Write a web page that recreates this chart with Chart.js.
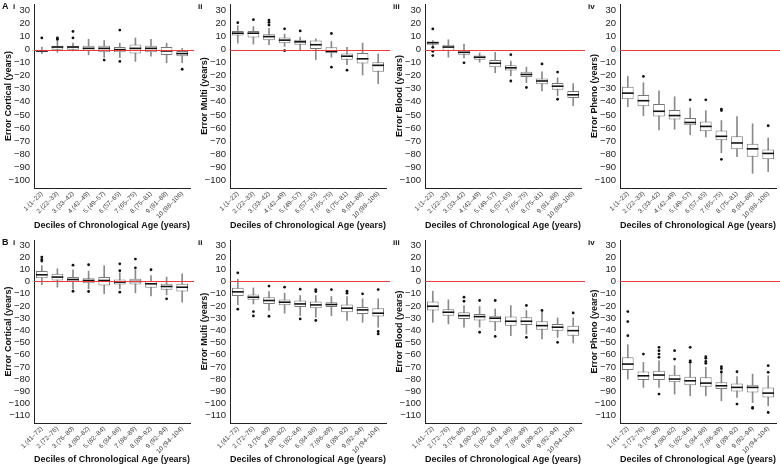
<!DOCTYPE html>
<html lang="en">
<head>
<meta charset="UTF-8">
<title>Error by decile of chronological age</title>
<script src="https://cdn.jsdelivr.net/npm/chart.js@4/dist/chart.umd.min.js"></script>
<style>
  body { margin: 0; background: #fff; }
  #wrap { position: relative; width: 780px; height: 466px; }
  #wrap canvas { position: absolute; }
</style>
</head>
<body>
<div id="wrap"></div>
<script>
// decile labels
var decilesA = ["1.(1–22)", "2.(22–33)", "3.(33–42)", "4.(42–49)", "5.(49–57)", "6.(57–65)", "7.(65–75)", "8.(75–81)", "9.(81–88)", "10.(88–106)"];
var decilesB = ["1.(41–72)", "2.(72–76)", "3.(76–80)", "4.(80–82)", "5.(82–84)", "6.(84–86)", "7.(86–89)", "8.(89–92)", "9.(92–94)", "10.(94–104)"];
var yTicksA = [30, 20, 10, 0, -10, -20, -30, -40, -50, -60, -70, -80, -90, -100];
var yTicksB = [30, 20, 10, 0, -10, -20, -30, -40, -50, -60, -70, -80, -90, -100, -110];

// box stats per decile: [lower whisker, q1, median, q3, upper whisker]
var cortA = [[-3,-2,-1,0,2],[-2,0,2,3,7],[-1,0,2,3,5],[-4,-1,1,3,8],[-6,-2,1,3,7],
             [-6,-2,0,2,5],[-9,-3,1,4,9],[-5,-2,1,3,8],[-10,-4,-1,2,5],[-10,-5,-3,-1,1]];
var cortAOut = [[9],[8,9],[9,14],[],[-8],[15,-9],[],[],[],[-15]];

var multiA = [[5,10.9,12.6,14.4,18.4],[4.3,9.3,12.6,14.4,17.7],[3.8,7.3,10,11.9,16.4],[2.5,5,7.3,9.3,12],[-0.8,3.8,6,7.6,9.6],
              [-7.6,0.5,3.8,7,8.3],[-5.8,-2.8,-1.3,1.8,6.3],[-11.4,-7.8,-5,-3,1.8],[-19.4,-10.6,-7,-2.5,5],[-26,-16.9,-12,-9.6,-3.3]];
var multiAOut = [[20.7],[23],[22.7,21,18.9],[16,-0.8],[14.4],[],[12.4,-13.4],[-15.7],[],[]];

var bloodA = [[3,3.8,5.3,6.3,7],[-5.8,-0.8,2,3.8,7.6],[-6.3,-3.8,-2,-0.3,4.3],[-9.6,-7.8,-5.8,-4.5,-2.5],[-17.7,-13.4,-10.4,-8,-2],
              [-20,-16,-13.9,-12,-8.8],[-25.3,-21,-19,-17,-13.4],[-31.6,-26.5,-24,-22,-17],[-35.4,-30.8,-28,-25.5,-21.5],[-43,-37.1,-34.6,-31.6,-26]];
var bloodAOut = [[15.9,1.8,-1.3,-4.5],[],[-10.1],[],[],[-3.8,-24],[-29],[-10.9],[-17.2,-38],[]];

var phenoA = [[-43.7,-37.9,-33.3,-28.5,-20.5],[-50.5,-43.4,-39.1,-34.8,-25.3],[-61.4,-51.3,-47.2,-41.7,-31.6],[-61,-53.5,-50.5,-46.2,-36.1],[-65.2,-58,-55.8,-52.3,-44.7],
              [-66.9,-62.6,-58.8,-55,-46.7],[-79,-69.4,-66.4,-61.9,-54.3],[-82,-76.3,-71.5,-66.4,-51.3],[-94.7,-82,-76,-72,-56.8],[-93.4,-84,-79.5,-76.5,-67.7]];
var phenoAOut = [[],[-20.5],[],[],[-38.4],[-38.4],[-45.5,-46.7,-84],[],[],[-58.3]];

var cortB = [[-2.7,2.7,5.5,8.5,13],[-4.7,0.8,3.6,6.3,10.4],[-6,-0.5,1.6,3.6,9.6],[-6,-1.4,0.8,2.7,8.5],[-10,-3.3,0.8,3.6,13],
             [-6,-2.5,-0.5,1.6,7],[-9.3,-2.5,0,2.2,9.6],[-11.8,-5.2,-1.9,0.3,4.9],[-11,-6.8,-4.1,-1.9,3.6],[-17,-8.2,-4.7,-1.9,6.3]];
var cortBOut = [[20,18,16.7],[],[13.4,-8],[13.7,-8.2],[],[14.5,8.8,-8.8],[18.4,11.2],[9.6],[-14.2],[]];

var multiB = [[-19,-11.8,-8.5,-5.2,1.9],[-18.4,-15,-12.9,-10.7,-5.2],[-23.8,-18.4,-15.6,-12.9,-8.2],[-26,-19.5,-17,-14.8,-9.6],[-28,-21,-18.4,-15.6,-11.5],
              [-29.3,-21.9,-19.2,-16.4,-11.5],[-28,-21,-18.9,-17,-12.3],[-32,-25.2,-21.9,-18.9,-12.3],[-33.4,-26.6,-23.3,-21,-14.2],[-37.5,-28.8,-26,-21.9,-14.2]];
var multiBOut = [[7.1,-22.7],[-24.7,-28.2],[-3.8,-28.5],[-4.7],[-6.3,-30.7],[-6.6,-8.2,-32],[-6.6],[-8,-9.6],[-10.1],[-6.6,-41,-43]];

var bloodB = [[-33.4,-23.8,-20.3,-16.4,-8],[-34.8,-28,-25.2,-22.7,-15],[-37.5,-30.7,-28,-25.2,-19.7],[-37.5,-32,-28.8,-26.6,-20.5],[-40.3,-33.4,-30.1,-28,-22.5],
              [-44.4,-36.2,-32.6,-28.8,-19.7],[-43,-35.6,-32.6,-29.3,-23.8],[-47,-39.5,-36.2,-32.6,-25.2],[-45.8,-40.3,-37.5,-34.8,-29.9],[-50.4,-44.4,-40.3,-36.2,-29.9]];
var bloodBOut = [[],[],[-12.9,-16.2],[-15.6,-41.6],[-15.6,-45],[],[-19.7,-45.8],[-23.8],[-49.9],[-25.8]];

var phenoB = [[-80,-72.6,-67.7,-62.2,-51.8],[-86.8,-80.8,-77.3,-73.7,-66.3],[-86.8,-80.8,-76.7,-73.2,-65],[-92.3,-82.7,-80,-76.4,-69],[-93.7,-85,-81.4,-78,-67.7],
              [-93.7,-86.3,-83.3,-78.6,-70.4],[-97.8,-88.2,-85.5,-82.7,-73.2],[-95,-90.1,-86.8,-83.6,-78],[-99.2,-91,-86.8,-84.7,-75.9],[-101.9,-95,-91.5,-86.8,-77.3]];
var phenoBOut = [[-24.7,-32.9,-44.4],[-59.5],[-54,-56.7,-59.5,-62.2,-92.3],[-56.7,-63.6],[-54,-65,-66.3],[-61.6,-63,-65.5,-67.1],[-69.9,-71.5,-74.2],[-74,-100.5],[-103.3,-104],[-69,-74.5,-107.4]];

var FONT = "'Liberation Sans', Arial, sans-serif";
var cols = [0, 196, 391, 586];

var panels = [
  { row: 0, col: 0, tag: ["A", "i"], title: "Error Cortical (years)", stats: cortA, out: cortAOut },
  { row: 0, col: 1, tag: ["", "ii"], title: "Error Multi (years)", stats: multiA, out: multiAOut },
  { row: 0, col: 2, tag: ["", "iii"], title: "Error Blood (years)", stats: bloodA, out: bloodAOut },
  { row: 0, col: 3, tag: ["", "iv"], title: "Error Pheno (years)", stats: phenoA, out: phenoAOut },
  { row: 1, col: 0, tag: ["B", "i"], title: "Error Cortical (years)", stats: cortB, out: cortBOut },
  { row: 1, col: 1, tag: ["", "ii"], title: "Error Multi (years)", stats: multiB, out: multiBOut },
  { row: 1, col: 2, tag: ["", "iii"], title: "Error Blood (years)", stats: bloodB, out: bloodBOut },
  { row: 1, col: 3, tag: ["", "iv"], title: "Error Pheno (years)", stats: phenoB, out: phenoBOut }
];

var rows = [
  { top: 0,   height: 230, padTop: 2,  xHeight: 42, titlePad: -0.5, min: -106, max: 35, ticks: yTicksA, labels: decilesA },
  { top: 230, height: 236, padTop: 10, xHeight: 43, titlePad: 1.5,  min: -116, max: 34, ticks: yTicksB, labels: decilesB }
];

// medians, red zero line and panel tag
var boxExtras = {
  id: "boxExtras",
  afterDatasetsDraw: function(chart, args, opts) {
    var ctx = chart.ctx, y = chart.scales.y, area = chart.chartArea;
    var meta = chart.getDatasetMeta(1);
    ctx.save();
    ctx.strokeStyle = "#111";
    ctx.lineWidth = 1.6;
    meta.data.forEach(function(el, i) {
      var py = y.getPixelForValue(opts.medians[i]);
      ctx.beginPath();
      ctx.moveTo(el.x - el.width / 2, py);
      ctx.lineTo(el.x + el.width / 2, py);
      ctx.stroke();
    });
    var y0 = Math.round(y.getPixelForValue(0)) + 0.5;
    ctx.strokeStyle = "#f03a3a";
    ctx.lineWidth = 1;
    ctx.beginPath();
    ctx.moveTo(area.left, y0);
    ctx.lineTo(chart.width, y0);
    ctx.stroke();

    ctx.fillStyle = "#111";
    ctx.textBaseline = "middle";
    ctx.font = "bold 9px " + FONT;
    var ty = area.top + 3;
    var tx = 2;
    if (opts.tag[0]) {
      ctx.fillText(opts.tag[0], tx, ty);
      tx += 11;
    }
    ctx.font = "bold 8px " + FONT;
    ctx.fillText(opts.tag[1], tx, ty);
    ctx.restore();
  }
};

function fmt(v) {
  return v < 0 ? "\u2212" + Math.abs(v) : String(v);
}

var wrap = document.getElementById("wrap");

panels.forEach(function(p) {
  var r = rows[p.row];
  var cv = document.createElement("canvas");
  cv.width = 194;
  cv.height = r.height;
  cv.style.left = cols[p.col] + "px";
  cv.style.top = r.top + "px";
  wrap.appendChild(cv);

  var whiskers = p.stats.map(function(s) { return [s[0], s[4]]; });
  var boxes = p.stats.map(function(s) { return [s[1], s[3]]; });
  var medians = p.stats.map(function(s) { return s[2]; });
  var points = [];
  p.out.forEach(function(list, i) {
    list.forEach(function(v) { points.push({ x: r.labels[i], y: v }); });
  });

  new Chart(cv.getContext("2d"), {
    type: "bar",
    data: {
      labels: r.labels,
      datasets: [
        {
          type: "scatter",
          data: points,
          pointRadius: 1.4,
          pointBackgroundColor: "#111",
          pointBorderWidth: 0
        },
        {
          data: boxes,
          grouped: false,
          backgroundColor: "#ffffff",
          borderColor: "#777777",
          borderWidth: 1,
          borderSkipped: false,
          barPercentage: 0.75,
          categoryPercentage: 1
        },
        {
          data: whiskers,
          grouped: false,
          backgroundColor: "#8a8a8a",
          borderWidth: 0,
          barThickness: 1
        }
      ]
    },
    options: {
      responsive: false,
      animation: false,
      events: [],
      layout: { padding: { top: r.padTop, right: 2, bottom: 0, left: 0 } },
      plugins: {
        legend: { display: false },
        tooltip: { enabled: false },
        boxExtras: { medians: medians, tag: p.tag }
      },
      scales: {
        x: {
          type: "category",
          offset: true,
          grid: { display: false, drawTicks: false },
          border: { display: true, color: "#222", width: 1 },
          ticks: {
            autoSkip: false,
            minRotation: 45,
            maxRotation: 45,
            padding: 2,
            color: "#444",
            font: { family: FONT, size: 6.5 }
          },
          title: {
            display: true,
            text: "Deciles of Chronological Age (years)",
            color: "#111",
            font: { family: FONT, size: 9, weight: "bold", lineHeight: 1 },
            padding: { top: 0, bottom: r.titlePad }
          },
          afterFit: function(s) {
            s.height = r.xHeight;
            s.paddingLeft = 0;
            s.paddingRight = 0;
          }
        },
        y: {
          min: r.min,
          max: r.max,
          grid: { display: false, drawTicks: false },
          border: { display: true, color: "#222", width: 1 },
          afterBuildTicks: function(s) {
            s.ticks = r.ticks.map(function(v) { return { value: v }; });
          },
          ticks: {
            autoSkip: false,
            padding: 4,
            color: "#222",
            font: { family: FONT, size: 9.5 },
            callback: fmt
          },
          title: {
            display: true,
            text: p.title,
            color: "#111",
            font: { family: FONT, size: 9, weight: "bold" },
            padding: { top: 3, bottom: 0 }
          },
          afterFit: function(s) {
            s.width = 34;
            s.paddingTop = 0;
            s.paddingBottom = 0;
          }
        }
      }
    },
    plugins: [boxExtras]
  });
});
</script>
</body>
</html>
